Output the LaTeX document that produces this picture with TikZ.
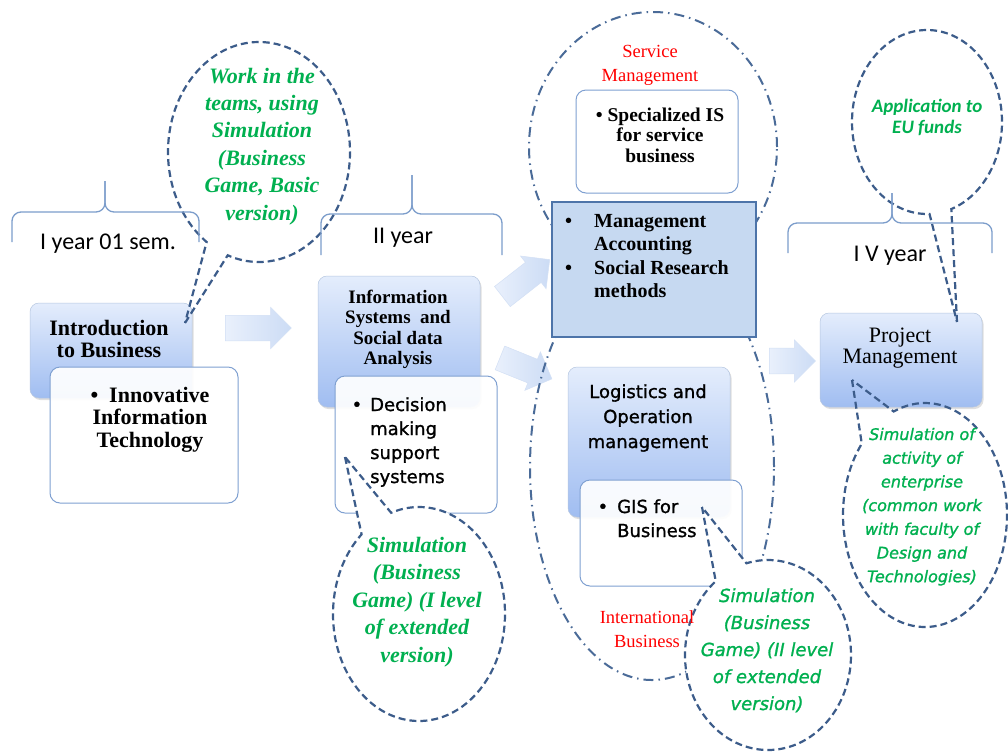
\documentclass[tikz,border=0pt]{standalone}
\usepackage{fontspec}
\setmainfont{Liberation Serif}
\newfontfamily\calfont{Carlito}
\newfontfamily\dvfont{DejaVu Sans}[BoldFont={DejaVu Sans}, BoldFeatures={FakeBold=1.2}, BoldItalicFont={DejaVu Sans Oblique}, BoldItalicFeatures={FakeBold=1.2}]
\usetikzlibrary{shapes.geometric,shapes.callouts,shapes.arrows,shadows}
\definecolor{dashblue}{HTML}{3C5C8A}
\definecolor{ddblue}{HTML}{4A6B98}
\definecolor{brblue}{HTML}{7C9DCB}
\definecolor{gtop}{HTML}{E4EDFC}
\definecolor{gbot}{HTML}{A0BDF1}
\definecolor{gedge}{HTML}{B5C6E0}
\definecolor{wborder}{HTML}{7FA0D1}
\definecolor{rfill}{HTML}{C6D9F1}
\definecolor{rborder}{HTML}{4D74A9}
\definecolor{tgreen}{HTML}{00B050}
\definecolor{atop}{HTML}{E9F0FC}
\definecolor{abot}{HTML}{CCDCF5}
\definecolor{aedge}{HTML}{D3E0F5}
\newcommand{\ml}[2][c]{\begin{tabular}[t]{@{}#1@{}}#2\end{tabular}}
\newcommand{\fs}[2]{\fontsize{#1}{#2}\selectfont}
\begin{document}
\begin{tikzpicture}[x=1pt,y=1pt,
  gbox/.style={rounded corners=9pt, top color=gtop, bottom color=gbot, draw=gedge, line width=0.5pt,
    drop shadow={opacity=0.25,shadow xshift=1.5pt,shadow yshift=-2pt}, inner sep=0},
  wbox/.style={rounded corners=10pt, fill=white, fill opacity=0.92, draw=wborder, draw opacity=1, line width=1pt, inner sep=0},
  rbox/.style={fill=rfill, draw=rborder, line width=1.2pt, inner sep=0},
  barrow/.style={single arrow, single arrow head extend=8pt, left color=atop, right color=abot, draw=aedge, line width=0.5pt, inner xsep=0, inner ysep=12.5pt, minimum width=41pt},
  ddell/.style={ellipse, draw=ddblue, line width=2pt, dash pattern=on 10pt off 5pt on 1.5pt off 5pt, inner sep=0},
  bubble/.style={ellipse callout, draw=dashblue, line width=2.2pt, dash pattern=on 7pt off 4pt, inner sep=0},
  bracestyle/.style={draw=brblue, line width=1.3pt, rounded corners=9pt},
  txt/.style={inner sep=0, anchor=base},
  ylabel/.style={inner sep=0, anchor=base, font=\calfont\fs{24}{25}}
]
\fill[white] (0,0) rectangle (1008,-753);
\useasboundingbox (0,0) rectangle (1008,-753);

% block arrows
\node[barrow, minimum height=66] (a1) at (252,-328) {};
\node[barrow, minimum height=60, rotate=38] (a2) at (521,-282) {};
\node[barrow, minimum height=56, rotate=-22] (a3) at (520,-366) {};
\node[barrow, minimum height=46, minimum width=42] (a4) at (786,-361) {};

% dash-dot groups
\node[ddell, minimum width=248, minimum height=270] (e1) at (653,-147) {};
\node[ddell, minimum width=244, minimum height=426] (e2) at (652,-467) {};

% gradient boxes
\node[gbox, minimum width=162, minimum height=95] (g1) at (111,-350.5) {};
\node[gbox, minimum width=162, minimum height=131] (g2) at (399,-341.5) {};
\node[gbox, minimum width=162, minimum height=150] (g3) at (649,-442) {};
\node[gbox, minimum width=162, minimum height=94] (g4) at (901,-360) {};
\node[rbox, minimum width=204, minimum height=135] (r) at (654,-269.5) {};

% white boxes
\node[wbox, minimum width=188, minimum height=136] (w1) at (144,-435) {};
\node[wbox, minimum width=162, minimum height=137] (w2) at (416,-444.5) {};
\node[wbox, minimum width=162, minimum height=103] (w3) at (657,-141.5) {};
\node[wbox, minimum width=162, minimum height=106] (w4) at (661,-533) {};

% callouts
\coordinate (t1) at (185,-323);
\coordinate (t2) at (345,-457);
\coordinate (t3) at (702,-507);
\coordinate (t4) at (957,-322);
\coordinate (t5) at (852,-380);
\node[bubble, minimum width=182, minimum height=220, callout absolute pointer={(t1)}, callout pointer arc=15] (c1) at (259,-152) {};
\node[bubble, fill=white, minimum width=172, minimum height=214, callout absolute pointer={(t2)}, callout pointer arc=23] (c2) at (419,-614) {};
\node[bubble, fill=white, minimum width=166, minimum height=190, callout absolute pointer={(t3)}, callout pointer arc=24] (c3) at (768,-655) {};
\node[bubble, minimum width=150, minimum height=184, callout absolute pointer={(t4)}, callout pointer arc=17] (c4) at (927,-122) {};
\node[bubble, minimum width=164, minimum height=224, callout absolute pointer={(t5)}, callout pointer arc=28] (c5) at (925,-515) {};

% braces
\draw[bracestyle] (12,-242) -- (12,-212) -- (105,-212) -- (105,-181);
\draw[bracestyle] (199,-242) -- (199,-212) -- (105,-212) -- (105,-181);
\draw[bracestyle] (321,-255) -- (321,-214) -- (412,-214) -- (412,-175);
\draw[bracestyle] (502,-255) -- (502,-214) -- (412,-214) -- (412,-175);
\draw[bracestyle] (788,-253) -- (788,-223) -- (892,-223) -- (892,-193);
\draw[bracestyle] (992,-253) -- (992,-223) -- (892,-223) -- (892,-193);
\node[ylabel] (y1) at (108,-249) {I year 01 sem.};
\node[ylabel] (y2) at (403,-243) {II year};
\node[ylabel] (y4) at (890,-261) {I V year};

% box texts
\node[txt, font=\bfseries\fs{22}{22}] (g1t) at (109,-335.7) {\ml{Introduction\\to Business}};
\node[txt, font=\bfseries\fs{22}{22.5}] (w1t) at (150,-402) {\ml{\textbullet\ \ Innovative\\Information\\Technology}};
\node[txt, font=\bfseries\fs{19}{20.5}] (g2t) at (398,-303) {\ml{Information\\Systems\ \ and\\Social data\\Analysis}};
\node[txt, anchor=base west, font=\dvfont\bfseries\fs{18}{24}] (w2t) at (370,-411) {\ml[l]{\llap{\textbullet\hspace{8pt}}Decision\\making\\support\\systems}};
\node[txt, font=\bfseries\fs{19.5}{20.5}] (w3t) at (660,-121) {\ml{\textbullet\ Specialized IS\\for service\\business}};
\node[txt, anchor=base west, font=\bfseries\fs{20}{23.5}] (rt) at (594,-227) {\ml[l]{\llap{\textbullet\hspace{22pt}}Management\\Accounting\\\llap{\textbullet\hspace{22pt}}Social Research\\methods}};
\node[txt, font=\dvfont\bfseries\fs{18}{25}] (g3t) at (648,-398) {\ml{Logistics and\\Operation\\management}};
\node[txt, anchor=base west, font=\dvfont\bfseries\fs{18}{24}] (w4t) at (617,-513) {\ml[l]{\llap{\textbullet\hspace{9pt}}GIS for\\Business}};
\node[txt, font=\fs{22}{21.5}] (g4t) at (900,-342) {\ml{Project\\Management}};
\node[txt, text=red, font=\fs{18.5}{24}] (e1t) at (650,-57) {\ml{Service\\Management}};
\node[txt, text=red, font=\fs{18.5}{24}] (e2t) at (647,-623) {\ml{International\\Business}};

% callout texts
\node[txt, text=tgreen, font=\bfseries\itshape\fs{22}{27.4}] (c1t) at (262,-83) {\ml{Work in the\\teams, using\\Simulation\\(Business\\Game, Basic\\version)}};
\node[txt, text=tgreen, font=\bfseries\itshape\fs{22}{27.5}] (c2t) at (417,-552) {\ml{Simulation\\(Business\\Game) (I level\\of extended\\version)}};
\node[txt, text=tgreen, font=\dvfont\bfseries\itshape\fs{18}{27}] (c3t) at (767,-602) {\ml{Simulation\\(Business\\Game) (II level\\of extended\\version)}};
\node[txt, text=tgreen, font=\calfont\bfseries\itshape\fs{19}{21.5}] (c4t) at (927,-112) {\ml{Application to\\EU funds}};
\node[txt, text=tgreen, font=\dvfont\bfseries\itshape\fs{16}{23.7}] (c5t) at (922,-440) {\ml{Simulation of\\activity of\\enterprise\\(common work\\with faculty of\\Design and\\Technologies)}};
\end{tikzpicture}
\end{document}
